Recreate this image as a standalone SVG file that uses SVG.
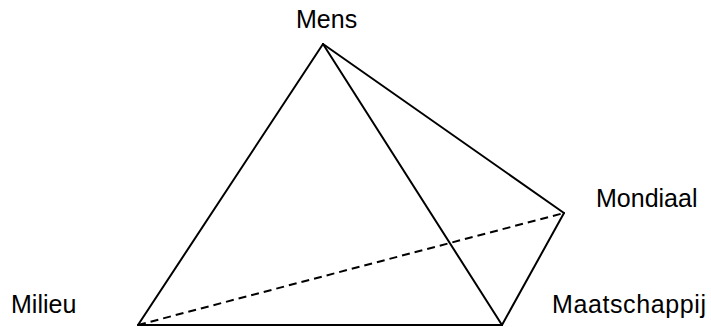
<svg xmlns="http://www.w3.org/2000/svg" width="711" height="327" viewBox="0 0 711 327">
<style>
.lbl{font-family:"Liberation Sans",Arial,sans-serif;font-size:25px;fill:#000}
.edge{stroke:#000;stroke-width:2;fill:none;stroke-linecap:round}
.dash{stroke-dasharray:8 5;stroke-linecap:butt}
</style>
<rect width="711" height="327" fill="#fff"/>
<g id="connectors">
<line class="edge" x1="323" y1="44" x2="138" y2="325"/>
<line class="edge" x1="323" y1="44" x2="502" y2="325"/>
<line class="edge" x1="323" y1="44" x2="564" y2="213"/>
<line class="edge" x1="138" y1="325" x2="502" y2="325"/>
<line class="edge" x1="502" y1="325" x2="564" y2="213"/>
<line class="edge dash" x1="138" y1="325" x2="564" y2="213"/>
</g>
<g id="mens"><text class="lbl" x="296" y="28">Mens</text></g>
<g id="milieu"><text class="lbl" x="11" y="313">Milieu</text></g>
<g id="mondiaal"><text class="lbl" x="596" y="207">Mondiaal</text></g>
<g id="maatschappij"><text class="lbl" x="552" y="313" textLength="154" lengthAdjust="spacing">Maatschappij</text></g>
</svg>
